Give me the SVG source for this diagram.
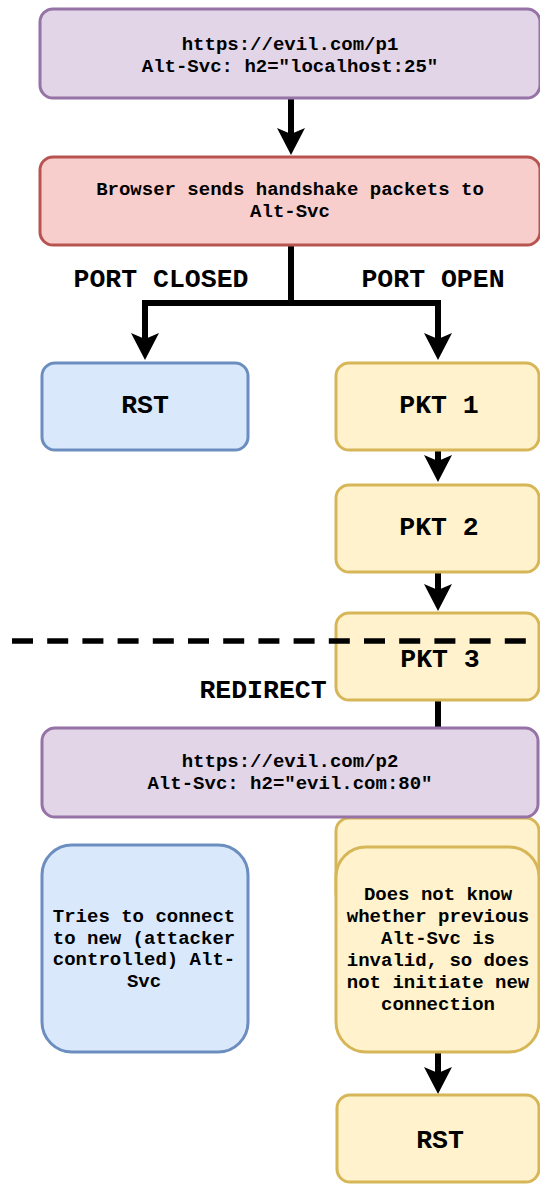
<svg xmlns="http://www.w3.org/2000/svg" width="540" height="1184" viewBox="0 0 540 1184">
<style>
  text { font-family: "Liberation Mono", "Courier New", monospace; font-weight: bold; fill: #000; text-anchor: middle; }
  .s { font-size: 19px; }
  .l { font-size: 26.5px; }
  .purple { fill: #e1d5e7; stroke: #9673a6; stroke-width: 3; }
  .red { fill: #f8cecc; stroke: #b85450; stroke-width: 3; }
  .blue { fill: #dae8fc; stroke: #6c8ebf; stroke-width: 3; }
  .yellow { fill: #fff2cc; stroke: #d6b656; stroke-width: 3; }
  .edge { fill: none; stroke: #000; stroke-width: 6; }
</style>
<defs>
  <marker id="arrow" markerUnits="userSpaceOnUse" viewBox="0 0 27 28" markerWidth="27" markerHeight="28" refX="15" refY="14" orient="auto">
    <path d="M27,14 L0,0 L6,14 L0,28 Z" fill="#000"/>
  </marker>
</defs>

<g id="connectors">
  <path class="edge" d="M291,99 V143" marker-end="url(#arrow)"/>
  <path class="edge" d="M291,245 V303 H145 V348" marker-end="url(#arrow)"/>
  <path class="edge" d="M291,303 H438 V348" marker-end="url(#arrow)"/>
  <path class="edge" d="M438,450 V470" marker-end="url(#arrow)"/>
  <path class="edge" d="M438,572 V599" marker-end="url(#arrow)"/>
  <path class="edge" d="M438,700 V760"/>
  <path class="edge" d="M438,1052 V1082" marker-end="url(#arrow)"/>
</g>

<g id="labels">
  <text class="l" x="161" y="287">PORT CLOSED</text>
  <text class="l" x="433" y="287">PORT OPEN</text>
  <text class="l" x="263" y="698">REDIRECT</text>
</g>

<g id="node-p1">
  <rect class="purple" x="40" y="9" width="500" height="89" rx="13"/>
  <text class="s" x="290" y="50">https://evil.com/p1</text>
  <text class="s" x="290" y="72">Alt-Svc: h2="localhost:25"</text>
</g>

<g id="node-browser">
  <rect class="red" x="40" y="157" width="500" height="88" rx="13"/>
  <text class="s" x="290" y="195">Browser sends handshake packets to</text>
  <text class="s" x="290" y="217">Alt-Svc</text>
</g>

<g id="node-rst1">
  <rect class="blue" x="42" y="363" width="206" height="87" rx="13"/>
  <text class="l" x="145" y="413">RST</text>
</g>

<g id="node-pkt1">
  <rect class="yellow" x="336" y="363" width="203" height="87" rx="13"/>
  <text class="l" x="439" y="413">PKT 1</text>
</g>

<g id="node-pkt2">
  <rect class="yellow" x="336" y="485" width="203" height="87" rx="13"/>
  <text class="l" x="439" y="535">PKT 2</text>
</g>

<g id="node-pkt3">
  <rect class="yellow" x="336" y="613" width="203" height="87" rx="13"/>
  <text class="l" x="440" y="667">PKT 3</text>
</g>

<g id="node-back">
  <rect class="yellow" x="336" y="818" width="203" height="88" rx="13"/>
</g>

<g id="node-p2">
  <rect class="purple" x="42" y="728" width="496" height="89" rx="13"/>
  <text class="s" x="290" y="767">https://evil.com/p2</text>
  <text class="s" x="290" y="789">Alt-Svc: h2="evil.com:80"</text>
</g>

<g id="node-tries">
  <rect class="blue" x="42" y="845" width="206" height="207" rx="30"/>
  <text class="s" x="144" y="922">Tries to connect</text>
  <text class="s" x="144" y="943.5">to new (attacker</text>
  <text class="s" x="144" y="965">controlled) Alt-</text>
  <text class="s" x="144" y="987">Svc</text>
</g>

<g id="node-doesnot">
  <rect class="yellow" x="336" y="847" width="203" height="205" rx="30"/>
  <text class="s" x="438" y="900">Does not know</text>
  <text class="s" x="438" y="922">whether previous</text>
  <text class="s" x="438" y="943.5">Alt-Svc is</text>
  <text class="s" x="438" y="966">invalid, so does</text>
  <text class="s" x="438" y="988">not initiate new</text>
  <text class="s" x="438" y="1010">connection</text>
</g>

<g id="node-rst2">
  <rect class="yellow" x="337" y="1095" width="202" height="87" rx="13"/>
  <text class="l" x="440" y="1148">RST</text>
</g>

<g id="divider">
  <line x1="12" y1="641" x2="526" y2="641" stroke="#000" stroke-width="5.5" stroke-dasharray="21 14.2"/>
</g>
</svg>
